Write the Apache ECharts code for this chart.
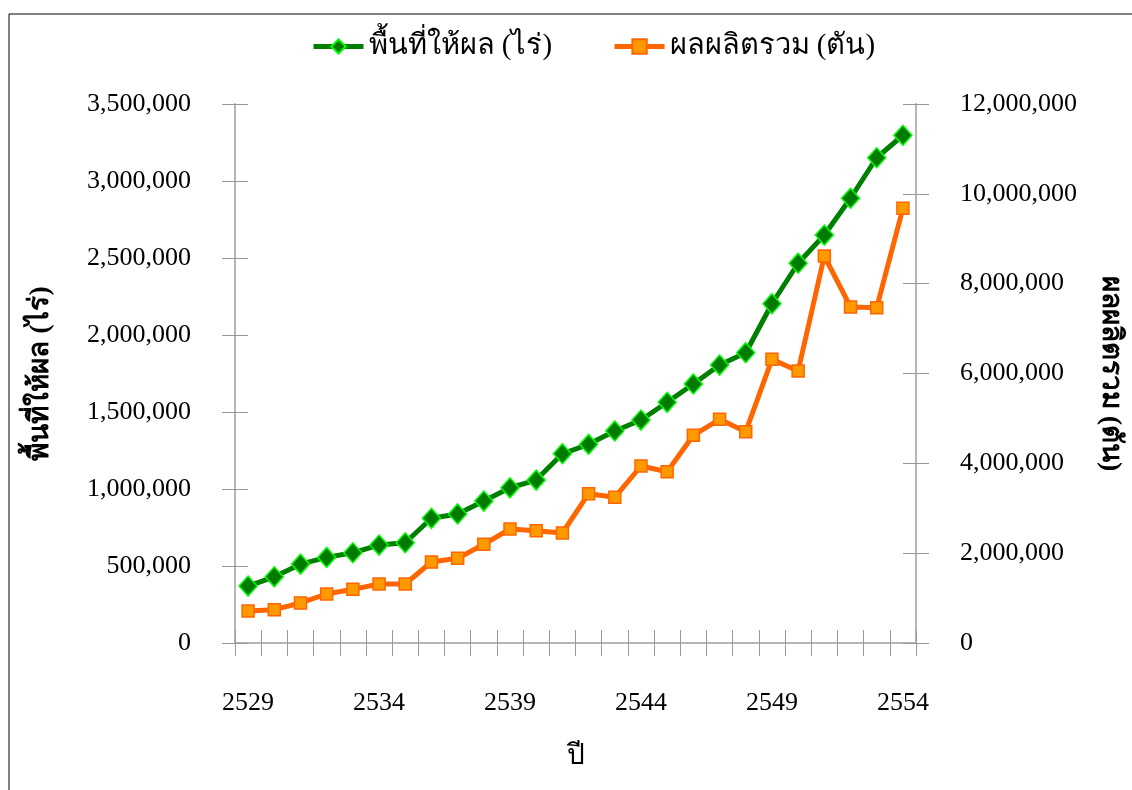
<!DOCTYPE html>
<html>
<head>
<meta charset="utf-8">
<script src="https://cdn.jsdelivr.net/npm/echarts@6/dist/echarts.min.js"></script>
<style>
html,body{margin:0;padding:0;background:#fff;}
#c{width:1132px;height:790px;}
</style>
</head>
<body>
<div id="c"></div>
<script>
const years = ['2529','2530','2531','2532','2533','2534','2535','2536','2537','2538','2539','2540','2541','2542','2543','2544','2545','2546','2547','2548','2549','2550','2551','2552','2553','2554'];
const areaRai = [370000,430000,512000,556000,586000,636000,651000,810000,838000,922000,1008000,1058000,1229000,1290000,1377000,1448000,1563000,1682000,1805000,1885000,2203000,2466000,2649000,2888000,3151000,3297000];
const outputTon = [712000,742000,891000,1091000,1195000,1314000,1314000,1803000,1885000,2197000,2538000,2500000,2449000,3325000,3244000,3941000,3814000,4624000,4980000,4705000,6315000,6055000,8616000,7481000,7465000,9678000];
const seriesNames = ['พื้นที่ให้ผล (ไร่)', 'ผลผลิตรวม (ตัน)'];
const xName = 'ปี';

const FONT = "'Liberation Serif', 'Times New Roman', serif";
const fmt = v => String(v).replace(/\B(?=(\d{3})+(?!\d))/g, ',');
const tickLine = {color: '#999', width: 1};
const axisLine = {show: true, lineStyle: {color: '#b5b5b5', width: 2}};

const chart = echarts.init(document.getElementById('c'));
chart.setOption({
  backgroundColor: '#fff',
  animation: false,
  textStyle: {fontFamily: FONT, color: '#000'},
  graphic: [{
    type: 'rect', silent: true,
    shape: {x: 9, y: 14, width: 1200, height: 900},
    style: {fill: 'none', stroke: '#000', lineWidth: 1}
  }],
  legend: {
    top: 27, left: 306,
    itemWidth: 50, itemHeight: 18, itemGap: 60,
    lineStyle: {width: 5},
    textStyle: {fontFamily: FONT, fontSize: 29, color: '#000'},
    data: seriesNames
  },
  grid: {left: 235, right: 212, top: 104, bottom: 147, containLabel: false},
  xAxis: [{
    type: 'category', data: years, boundaryGap: true, position: 'bottom',
    name: xName, nameLocation: 'middle', nameGap: 100,
    nameTextStyle: {fontFamily: FONT, fontSize: 28, color: '#000'},
    axisLine: axisLine,
    axisTick: {show: true, interval: 0, length: 13, lineStyle: tickLine},
    axisLabel: {interval: 4, margin: 47, fontFamily: FONT, fontSize: 26, color: '#000'},
    splitLine: {show: false}
  }, {
    type: 'category', data: years, boundaryGap: true, position: 'bottom',
    axisLine: {show: false},
    axisTick: {show: true, inside: true, interval: 0, length: 13, lineStyle: tickLine},
    axisLabel: {show: false}, splitLine: {show: false}
  }],
  yAxis: [{
    type: 'value', position: 'left', min: 0, max: 3500000, interval: 500000,
    name: seriesNames[0], nameLocation: 'middle', nameGap: 180, nameRotate: 90,
    nameTextStyle: {fontFamily: FONT, fontSize: 28, fontWeight: 'bold', color: '#000'},
    axisLine: axisLine,
    axisTick: {show: true, length: 13, lineStyle: tickLine},
    axisLabel: {margin: 44, fontFamily: FONT, fontSize: 26, color: '#000', formatter: fmt},
    splitLine: {show: false}
  }, {
    type: 'value', position: 'right', min: 0, max: 12000000, interval: 2000000,
    name: seriesNames[1], nameLocation: 'middle', nameGap: 180, nameRotate: -90,
    nameTextStyle: {fontFamily: FONT, fontSize: 28, fontWeight: 'bold', color: '#000'},
    axisLine: axisLine,
    axisTick: {show: true, length: 13, lineStyle: tickLine},
    axisLabel: {margin: 44, fontFamily: FONT, fontSize: 26, color: '#000', formatter: fmt},
    splitLine: {show: false}
  }, {
    type: 'value', position: 'left', min: 0, max: 3500000, interval: 500000,
    axisLine: {show: false},
    axisTick: {show: true, inside: true, length: 13, lineStyle: tickLine},
    axisLabel: {show: false}, splitLine: {show: false}
  }, {
    type: 'value', position: 'right', min: 0, max: 12000000, interval: 2000000,
    axisLine: {show: false},
    axisTick: {show: true, inside: true, length: 13, lineStyle: tickLine},
    axisLabel: {show: false}, splitLine: {show: false}
  }],
  series: [{
    name: seriesNames[0], type: 'line', xAxisIndex: 0, yAxisIndex: 0,
    data: areaRai, symbol: 'diamond', symbolSize: [18, 20], showAllSymbol: true,
    lineStyle: {color: '#008000', width: 5},
    itemStyle: {color: '#007a00', borderColor: '#00ff00', borderWidth: 1.5},
    z: 3
  }, {
    name: seriesNames[1], type: 'line', xAxisIndex: 0, yAxisIndex: 1,
    data: outputTon, symbol: 'rect', symbolSize: 12, showAllSymbol: true,
    lineStyle: {color: '#ff6600', width: 5},
    itemStyle: {color: '#ff9900', borderColor: '#ff6600', borderWidth: 1.5},
    z: 2
  }]
});
</script>
</body>
</html>
